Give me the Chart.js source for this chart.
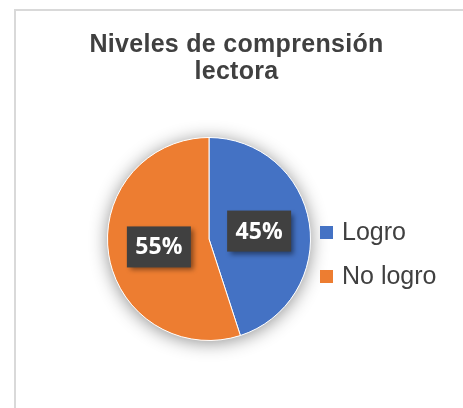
<!DOCTYPE html>
<html>
<head>
<meta charset="utf-8">
<script src="https://cdn.jsdelivr.net/npm/chart.js@4/dist/chart.umd.min.js"></script>
<style>
  body { margin: 0; background: #fff; width: 463px; height: 408px; overflow: hidden; position: relative; }
  #frame { position: absolute; left: 14px; top: 9px; width: 470px; height: 420px; border: 2px solid #d9d9d9; }
  #title { position: absolute; left: 12px; top: 30px; width: 449px; text-align: center;
           font: bold 25px 'Liberation Sans', Arial, sans-serif; letter-spacing: 0.3px;
           line-height: 27px; color: #404040; }
  #pie { position: absolute; left: 0; top: 0; }
</style>
</head>
<body>
<div id="frame"></div>
<canvas id="pie" width="463" height="408"></canvas>
<div id="title">Niveles de comprensión<br>lectora</div>
<script>
// datos del gráfico
const categorias = ['Logro', 'No logro'];
const valores = [45, 55];
const colores = ['#4472C4', '#ED7D31'];

// sombra suave bajo el círculo
const sombraPie = {
    id: 'sombraPie',
    beforeDatasetsDraw(chart) {
        const arc = chart.getDatasetMeta(0).data[0];
        if (!arc) return;
        const ctx = chart.ctx;
        ctx.save();
        ctx.shadowColor = 'rgba(0,0,0,0.45)';
        ctx.shadowBlur = 18;
        ctx.shadowOffsetY = 2;
        ctx.fillStyle = '#ffffff';
        ctx.beginPath();
        ctx.arc(arc.x, arc.y, arc.outerRadius, 0, Math.PI * 2);
        ctx.fill();
        ctx.restore();
    }
};

// etiquetas de porcentaje en cajas oscuras
const etiquetas = {
    id: 'etiquetas',
    afterDatasetsDraw(chart) {
        const ctx = chart.ctx;
        const data = chart.data.datasets[0].data;
        const total = data.reduce((a, b) => a + b, 0);
        chart.getDatasetMeta(0).data.forEach((arc, i) => {
            const p = arc.tooltipPosition();
            const txt = Math.round(data[i] / total * 100) + '%';
            ctx.save();
            ctx.shadowColor = 'rgba(0,0,0,0.45)';
            ctx.shadowBlur = 5;
            ctx.shadowOffsetX = 3;
            ctx.shadowOffsetY = 3;
            ctx.fillStyle = '#404040';
            ctx.fillRect(p.x - 32, p.y - 20.5, 64, 41);
            ctx.restore();
            ctx.save();
            ctx.fillStyle = '#ffffff';
            ctx.font = "bold 23px 'Open Sans', sans-serif";
            ctx.textAlign = 'center';
            ctx.textBaseline = 'middle';
            ctx.fillText(txt, p.x, p.y + 1);
            ctx.restore();
        });
    }
};

// leyenda a la derecha
const leyenda = {
    id: 'leyenda',
    afterDraw(chart) {
        const ctx = chart.ctx;
        const bg = chart.data.datasets[0].backgroundColor;
        chart.data.labels.forEach((lab, i) => {
            const cy = 232.5 + i * 44;
            ctx.save();
            ctx.fillStyle = bg[i];
            ctx.fillRect(320, cy - 6.5, 13, 13);
            ctx.fillStyle = '#404040';
            ctx.font = "25px 'Liberation Sans', Arial, sans-serif";
            ctx.textBaseline = 'middle';
            ctx.fillText(lab, 342, cy + 1);
            ctx.restore();
        });
    }
};

new Chart(document.getElementById('pie').getContext('2d'), {
    type: 'pie',
    data: {
        labels: categorias,
        datasets: [{
            data: valores,
            backgroundColor: colores,
            borderColor: '#ffffff',
            borderWidth: 1
        }]
    },
    options: {
        responsive: false,
        animation: false,
        layout: { padding: { left: 107, right: 152, top: 137, bottom: 67 } },
        plugins: {
            legend: { display: false },
            title: { display: false },
            tooltip: { enabled: false }
        }
    },
    plugins: [sombraPie, etiquetas, leyenda]
});
</script>
</body>
</html>
